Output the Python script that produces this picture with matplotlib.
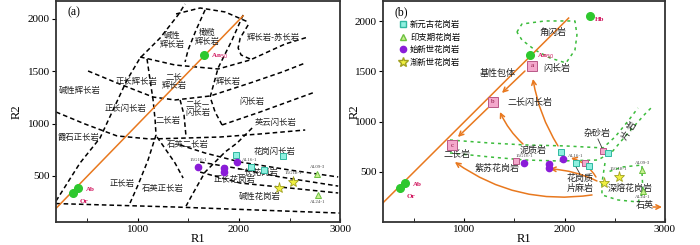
import matplotlib.pyplot as plt

plt.rcParams['font.family'] = ['Liberation Serif', 'DejaVu Sans']
CJK = ['Noto Sans CJK SC', 'DejaVu Sans']

# ---------------- 样品 (R1, R2) ----------------
neo_r1 = [1968, 2116, 2245, 2434]          # 新元古花岗岩
neo_r2 = [698, 590, 557, 688]
indo_r1 = [2775, 2780]                      # 印支期花岗岩
indo_r2 = [520, 313]
eoc_r1 = [1595, 1848, 1848, 1982]           # 始新世花岗岩
eoc_r2 = [585, 576, 541, 630]
oli_r1 = [2538, 2390]                       # 渐新世花岗岩
oli_r2 = [445, 385]

sample_names = ['15G16-1', 'AL16-1', '15G18-1', 'AL09-3', 'AL24-1']
sample_r1 = [1595, 1982, 2538, 2775, 2780]
sample_r2 = [585, 630, 445, 520, 313]

# 矿物端元
min_names = ['Ab', 'Or', 'An$_{50}$']
min_r1 = [408, 357, 1658]
min_r2 = [385, 338, 1658]
hb_r1, hb_r2 = [2253], [2054]

# 长石线
feld_r1 = [150, 2040]
feld_r2 = [150, 2030]

# ---------------- (a) 分类边界 ----------------
b_bottom = [(190, 236), (1367, 203), (3000, 145)]
b_diag = [(190, 260), (427, 623), (625, 862), (892, 1417), (1021, 1627),
          (1219, 1818), (1397, 2038), (1466, 2143)]
b_top = [(1377, 2048), (1615, 2105), (1862, 2067), (2090, 1971)]
b_ab_ol = [(1664, 2086), (1575, 1895), (1496, 1704), (1466, 1589)]
b_v3 = [(2040, 2038), (1931, 1799), (1793, 1532), (1714, 1254), (1763, 1111), (1832, 987)]
b_arc = [(2090, 1943), (2011, 1818), (1991, 1723), (2020, 1656), (2109, 1618)]
b_row1 = [(1021, 1637), (1367, 1560), (1793, 1522), (2109, 1608), (2456, 1761), (2683, 1828)]
b_row2 = [(507, 1503), (794, 1388), (1150, 1254), (1367, 1226), (1714, 1264),
          (2109, 1388), (2426, 1493), (2654, 1579)]
b_v1 = [(1090, 1618), (1120, 1417), (1150, 1226), (1170, 1034), (1179, 891),
        (1100, 652), (1001, 413), (922, 241)]
b_v2 = [(1417, 1226), (1456, 1082), (1476, 872)]
b_row3 = [(1832, 987), (2208, 1111), (2535, 1226), (2752, 1302)]
b_long = [(190, 1111), (477, 996), (794, 882), (1120, 853), (1466, 862),
          (1813, 872), (2208, 901), (2654, 939)]
b_qs = [(1189, 872), (1278, 748), (1367, 623), (1447, 480)]
b_diag2 = [(2129, 958), (1981, 815), (1862, 729), (1664, 537), (1535, 317), (1476, 212)]
b_g1 = [(1417, 796), (1664, 719), (2011, 633), (2505, 556), (2980, 490)]
b_g2 = [(1615, 633), (1961, 576), (2406, 490), (2980, 403)]
b_g3 = [(1615, 537), (2011, 432), (2505, 384), (2980, 337)]
bounds_a = [b_bottom, b_diag, b_top, b_ab_ol, b_v3, b_arc, b_row1, b_row2,
            b_v1, b_v2, b_row3, b_long, b_qs, b_diag2, b_g1, b_g2, b_g3]

fields_a = [('碱性\n辉长岩', 1338, 1799), ('橄榄\n辉长岩', 1684, 1828),
            ('辉长岩-苏长岩', 2337, 1828), ('正长辉长岩', 991, 1407),
            ('二长\n辉长岩', 1357, 1407), ('辉长岩', 1892, 1398),
            ('碱性辉长岩', 427, 1312), ('正长闪长岩', 873, 1149),
            ('二长—\n闪长岩', 1595, 1149), ('闪长岩', 2129, 1207),
            ('二长岩', 1298, 1034), ('英云闪长岩', 2357, 1006),
            ('霞石正长岩', 408, 872), ('石英二长岩', 1496, 796),
            ('花岗闪长岩', 2347, 738), ('正长岩', 843, 432),
            ('石英正长岩', 1249, 384), ('二长花岗岩', 2179, 537),
            ('正长花岗岩', 1951, 470), ('碱性花岗岩', 2208, 308)]

# ---------------- (b) 源区 ----------------
g_top = [(1525, 1891), (1575, 1971), (1804, 2001), (2103, 2001), (2123, 1862),
         (2103, 1712), (2014, 1583), (1854, 1633), (1705, 1712), (1575, 1812), (1525, 1891)]
g_up = [(858, 816), (1256, 786), (1605, 767), (2004, 757), (2382, 737),
        (2502, 846), (2632, 1005), (2731, 1135)]
g_low = [(858, 687), (1256, 647), (1605, 617), (1954, 607), (2332, 617),
         (2472, 697), (2632, 886), (2801, 1075), (2871, 1145)]
g_loop = [(2402, 587), (2372, 388), (2372, 269), (2532, 219), (2731, 199),
          (2781, 299), (2771, 488), (2771, 567), (2572, 547), (2432, 498)]
green_b = [g_top, g_up, g_low, g_loop]

box_names = ['a', 'b', 'c']
box_r1 = [1675, 1286, 878]
box_r2 = [1553, 1195, 766]
pink_r1 = [1515, 2203, 2382]
pink_r2 = [607, 587, 707]

arrows_b = [((1605, 1503), (1376, 1284), 0.0),
            ((1236, 1135), (937, 846), 0.0),
            ((1934, 757), (1685, 1424), -0.1),
            ((1585, 776), (1356, 1095), -0.1),
            ((2273, 269), (907, 597), -0.2),
            ((2322, 408), (1854, 528), 0.1),
            ((2312, 448), (2063, 637), 0.2),
            ((2880, 149), (2970, 149), 0.0)]

leaders_b = [[(2332, 826), (2382, 717)], [(2153, 478), (2103, 567)]]

fields_b = [('基性包体', 1336, 1483), ('闪长岩', 1924, 1523), ('二长闪长岩', 1655, 1185),
            ('二长岩', 927, 667), ('泥质岩', 1685, 717), ('紫苏花岗岩', 1326, 538),
            ('杂砂岩', 2323, 876), ('花岗质\n片麻岩', 2153, 383),
            ('深熔花岗岩', 2651, 338), ('石英', 2801, 159), ('角闪岩', 1884, 1891)]

orange = '#e8781e'
fig = plt.figure(figsize=(7, 2.45), dpi=100)
ax1 = fig.add_axes([0.08, 0.094, 0.406, 0.902])
ax2 = fig.add_axes([0.547, 0.094, 0.403, 0.902])


def draw_samples(ax):
    ax.plot(neo_r1, neo_r2, 's', ms=4.5, mfc='#8ff0e0', mec='#30b8a0', mew=0.7, zorder=5)
    ax.plot(indo_r1, indo_r2, '^', ms=4.5, mfc='#c8f090', mec='#6cc040', mew=0.7, zorder=5)
    ax.plot(eoc_r1, eoc_r2, 'o', ms=4.5, color='#8a1cd8', zorder=5)
    ax.plot(oli_r1, oli_r2, '*', ms=8, mfc='#f0f040', mec='#a0a020', mew=0.6, zorder=5)
    offs = [(0, 5), (9, 2), (0, 6), (0, 5), (0, -5)]
    for name, x, y, o in zip(sample_names, sample_r1, sample_r2, offs):
        ax.annotate(name, (x, y), xytext=o, textcoords='offset points',
                    ha='center', va='center', fontsize=3.5, color='#444444')
    ax.plot(feld_r1, feld_r2, color=orange, lw=1.1, zorder=2)
    ax.plot(min_r1, min_r2, 'o', ms=5.5, color='#2ec82e', zorder=6)
    for name, x, y, o in zip(min_names, min_r1, min_r2, [(9, -1), (8, -6), (11, -1)]):
        ax.annotate(name, (x, y), xytext=o, textcoords='offset points', ha='center',
                    va='center', fontsize=5, color='#d0105a', fontweight='bold')


def style_axes(ax, ylim, ylab_x):
    ax.set_xlim(190, 3000)
    ax.set_ylim(*ylim)
    ax.set_xticks([1000, 2000, 3000])
    ax.set_xticks([500, 1500, 2500], minor=True)
    ax.set_yticks([500, 1000, 1500, 2000])
    ax.tick_params(axis='x', which='both', direction='in', length=3, labelsize=8, pad=2)
    ax.tick_params(axis='y', direction='out', length=3, labelsize=8, pad=1.5)
    for s in ax.spines.values():
        s.set_linewidth(1.3)
        s.set_color('#333333')
    ax.text(0.5, -0.075, 'R1', transform=ax.transAxes, fontsize=9,
            ha='center', va='center')
    ax.text(ylab_x, 0.5, 'R2', transform=ax.transAxes, fontsize=9,
            ha='center', va='center', rotation=90)


# ---- (a) ----
for line in bounds_a:
    xs, ys = zip(*line)
    ax1.plot(xs, ys, color='black', lw=1.1, ls=(0, (3, 2)), zorder=1)
for t, x, y in fields_a:
    ax1.text(x, y, t, fontsize=6, ha='center', va='center', family=CJK,
             linespacing=1.0, color='#222222')
draw_samples(ax1)
style_axes(ax1, (60, 2172), -0.137)
ax1.text(0.04, 0.95, '(a)', transform=ax1.transAxes, fontsize=8.5, va='center')

# ---- (b) ----
for line in green_b:
    xs, ys = zip(*line)
    ax2.plot(xs, ys, color='#3cbc3c', lw=1.1, ls=(0, (2, 2.5)), zorder=1)
for line in leaders_b:
    xs, ys = zip(*line)
    ax2.plot(xs, ys, color='#333333', lw=0.6, zorder=3)
for (x0, y0), (x1, y1), rad in arrows_b:
    ax2.annotate('', xy=(x1, y1), xytext=(x0, y0),
                 arrowprops=dict(arrowstyle='->', color=orange, lw=1.1,
                                 mutation_scale=8, shrinkA=0, shrinkB=0,
                                 connectionstyle=f'arc3,rad={rad}'), zorder=3)
ax2.plot(box_r1, box_r2, 's', ms=7, mfc='#f4a8cc', mec='#b85888', mew=0.7, zorder=5)
for t, x, y in zip(box_names, box_r1, box_r2):
    ax2.text(x, y, t, fontsize=5, ha='center', va='center', color='#8a1040', zorder=6)
ax2.plot(pink_r1, pink_r2, 's', ms=5, mfc='#f4a8cc', mec='#b85888', mew=0.7, zorder=5)
for t, x, y in fields_b:
    ax2.text(x, y, t, fontsize=6.5, ha='center', va='center', family=CJK,
             linespacing=1.0, color='#222222', zorder=4)
ax2.text(2641, 906, '片 岩', fontsize=6.5, ha='center', va='center', family=CJK,
         rotation=58, color='#222222')
draw_samples(ax2)
ax2.plot(hb_r1, hb_r2, 'o', ms=5.5, color='#2ec82e', zorder=6)
ax2.annotate('Hb', (hb_r1[0], hb_r2[0]), xytext=(7, -3), textcoords='offset points',
             ha='center', va='center', fontsize=5, color='#d0105a', fontweight='bold')
style_axes(ax2, (0, 2200), -0.1)
ax2.text(0.04, 0.95, '(b)', transform=ax2.transAxes, fontsize=8.5, va='center')

h = [plt.Line2D([], [], ls='', marker='s', ms=4.5, mfc='#8ff0e0', mec='#30b8a0'),
     plt.Line2D([], [], ls='', marker='^', ms=4.5, mfc='#c8f090', mec='#6cc040'),
     plt.Line2D([], [], ls='', marker='o', ms=4.5, color='#8a1cd8'),
     plt.Line2D([], [], ls='', marker='*', ms=7, mfc='#f0f040', mec='#a0a020')]
leg = ax2.legend(h, ['新元古花岗岩', '印支期花岗岩', '始新世花岗岩', '渐新世花岗岩'],
                 loc='upper left', bbox_to_anchor=(0.04, 0.93), frameon=False,
                 prop={'family': CJK, 'size': 6}, handletextpad=0.3,
                 labelspacing=0.45, handlelength=1.2, borderaxespad=0)

fig.savefig('out.png', dpi=100)
